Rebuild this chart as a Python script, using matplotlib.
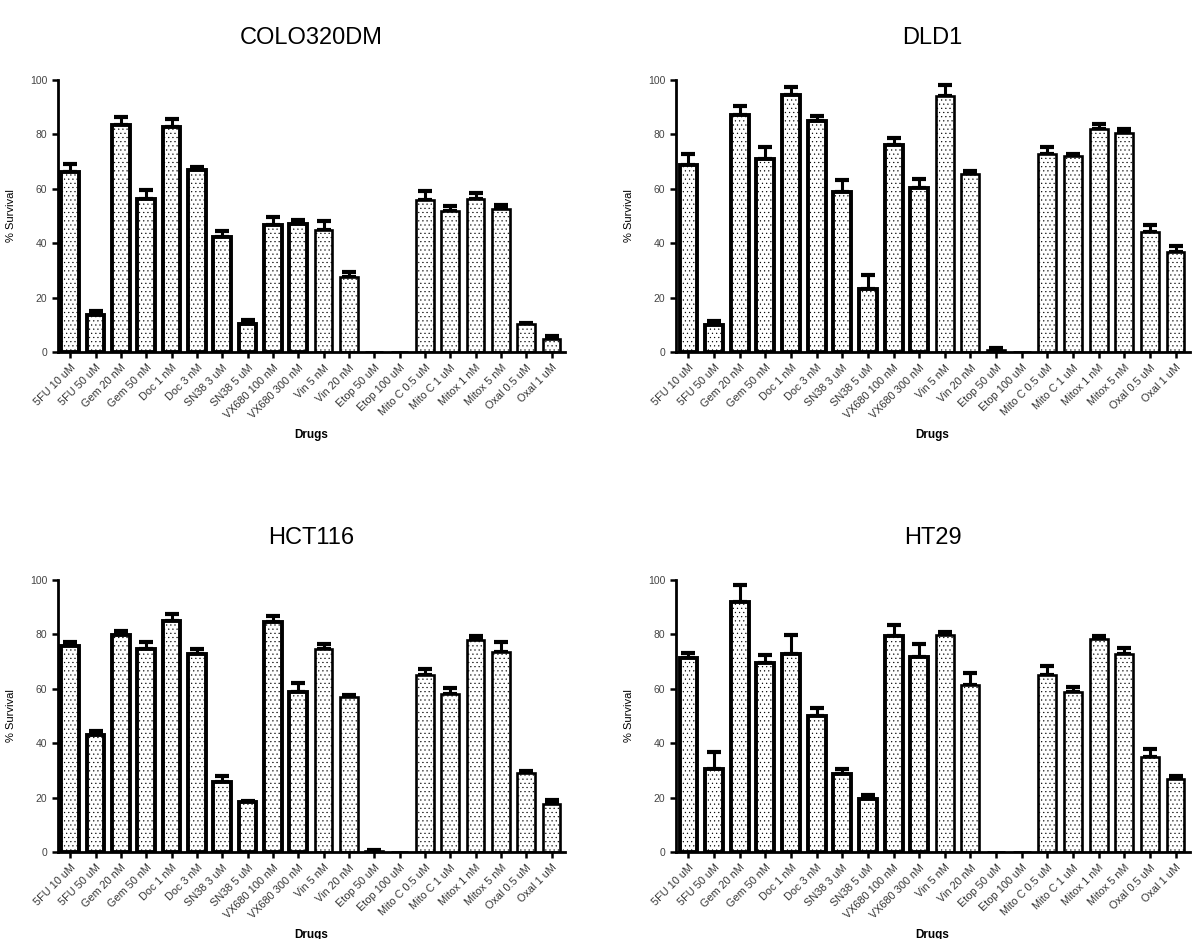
import numpy as np
import matplotlib
matplotlib.use("Agg")
import matplotlib.pyplot as plt

plt.rcParams['font.family'] = ['Liberation Sans', 'DejaVu Sans']
plt.rcParams['hatch.linewidth'] = 0.35
plt.rcParams['hatch.color'] = 'black'

drugs = ["5FU 10 uM", "5FU 50 uM", "Gem 20 nM", "Gem 50 nM", "Doc 1 nM", "Doc 3 nM",
         "SN38 3 uM", "SN38 5 uM", "VX680 100 nM", "VX680 300 nM", "Vin 5 nM", "Vin 20 nM",
         "Etop 50 uM", "Etop 100 uM", "Mito C 0.5 uM", "Mito C 1 uM", "Mitox 1 nM",
         "Mitox 5 nM", "Oxal 0.5 uM", "Oxal 1 uM"]

colo_mean = [66.1, 13.5, 83.5, 56.3, 82.6, 66.7, 42.1, 10.5, 46.8, 47.2, 45.0, 27.5,
             0, 0, 55.7, 51.7, 56.3, 52.5, 10.2, 5.0]
colo_sem = [3.0, 1.5, 3.0, 3.3, 3.0, 1.2, 2.5, 1.2, 2.8, 1.4, 3.2, 1.9,
            0, 0, 3.4, 1.8, 2.3, 1.4, 0.5, 0.9]

dld1_mean = [68.6, 9.8, 87.0, 71.0, 94.6, 85.0, 58.8, 23.0, 76.2, 60.4, 94.1, 65.3,
             0.9, 0, 72.9, 72.1, 81.9, 80.5, 44.1, 36.8]
dld1_sem = [4.0, 1.5, 3.4, 4.5, 2.6, 1.8, 4.5, 5.4, 2.6, 3.2, 4.0, 1.2,
            0.6, 0, 2.5, 0.8, 1.7, 1.6, 2.7, 2.0]

hct116_mean = [75.8, 43.1, 79.6, 74.5, 84.9, 72.7, 25.7, 18.4, 84.5, 58.6, 74.5, 56.8,
               0.5, 0, 65.1, 58.1, 78.0, 73.4, 29.0, 17.6]
hct116_sem = [1.2, 1.3, 1.7, 2.5, 2.5, 1.8, 2.3, 0.5, 2.3, 3.4, 2.0, 0.7,
              0.2, 0, 2.1, 2.0, 1.3, 3.6, 0.9, 1.5]

ht29_mean = [71.1, 30.6, 91.8, 69.4, 72.8, 50.1, 28.8, 19.5, 79.2, 71.6, 79.7, 61.3,
             0, 0, 65.1, 58.6, 78.3, 72.9, 35.0, 27.0]
ht29_sem = [2.0, 6.2, 6.4, 2.8, 6.9, 2.7, 1.6, 1.4, 4.3, 4.8, 1.0, 4.3,
            0, 0, 3.2, 1.9, 1.0, 2.0, 2.8, 1.0]

panels = [("COLO320DM", colo_mean, colo_sem, [0.048, 0.625, 0.424, 0.29]),
          ("DLD1", dld1_mean, dld1_sem, [0.564, 0.625, 0.429, 0.29]),
          ("HCT116", hct116_mean, hct116_sem, [0.048, 0.0926, 0.424, 0.29]),
          ("HT29", ht29_mean, ht29_sem, [0.564, 0.0926, 0.429, 0.29])]

fig = plt.figure(figsize=(11.98, 9.39), dpi=100)

for title, mean, sem, rect in panels:
    ax = fig.add_axes(rect)
    x = np.arange(len(drugs))
    mean = np.array(mean)
    sem = np.array(sem)
    # first ten drugs are drawn with heavier outlines
    lws = [2.8 if i < 10 else 1.9 for i in range(len(drugs))]
    has = mean > 0
    ax.errorbar(x[has], mean[has], yerr=[np.zeros(has.sum()), sem[has]], fmt='none',
                ecolor='black', elinewidth=2.2, capsize=5, capthick=3, zorder=1)
    ax.bar(x, mean, width=0.7, color='white', edgecolor='black', linewidth=lws,
           hatch='....', zorder=2)
    ax.set_xlim(-0.5, 19.55)
    ax.set_ylim(0, 100)
    ax.set_yticks([0, 20, 40, 60, 80, 100])
    ax.set_xticks(x)
    ax.set_xticklabels(drugs, rotation=45, ha='right', rotation_mode='anchor',
                       fontsize=7.8, color='#333333')
    ax.tick_params(axis='y', labelsize=7.5, labelcolor='#444444', width=1.8, length=4)
    ax.tick_params(axis='x', width=1.8, length=4)
    for side in ('top', 'right'):
        ax.spines[side].set_visible(False)
    for side in ('left', 'bottom'):
        ax.spines[side].set_linewidth(2.0)
    ax.set_ylabel("% Survival", fontsize=8, labelpad=10)
    ax.set_xlabel("Drugs", fontsize=8.5, fontweight='bold', labelpad=6)
    ax.set_title(title, fontsize=17, pad=26)

fig.savefig("out.png", dpi=100)
